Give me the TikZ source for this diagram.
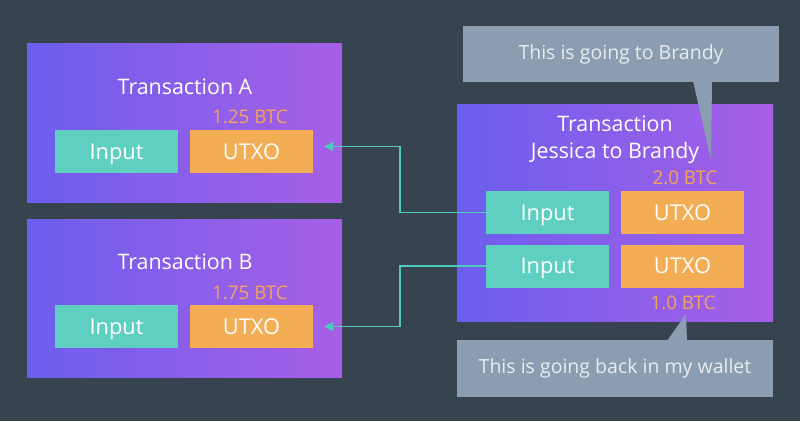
\documentclass[tikz,border=0pt]{standalone}
\usepackage{fontspec}
\setmainfont{Open Sans}
\usepackage{xcolor}
\usepackage{tikz}
\usetikzlibrary{arrows.meta}
\definecolor{bg}{HTML}{37434F}
\definecolor{txleft}{HTML}{6C5EEE}
\definecolor{txright}{HTML}{A75FE6}
\definecolor{teal}{HTML}{5ECFC0}
\definecolor{utxo}{HTML}{F2AD55}
\definecolor{btc}{HTML}{F2A35C}
\definecolor{callout}{HTML}{8B9DB0}
\definecolor{calltext}{HTML}{E8ECF0}
\definecolor{link}{HTML}{4FCABF}
\tikzset{
  txbox/.style={left color=txleft, right color=txright, draw=none, inner sep=0pt},
  inbox/.style={fill=teal, text=white, minimum width=123pt, minimum height=43pt, inner sep=0pt,
    text height=15pt, text depth=0pt, font=\fontsize{21.8}{25}\selectfont},
  utxobox/.style={fill=utxo, text=white, minimum width=123pt, minimum height=43pt, inner sep=0pt,
    text height=15pt, text depth=0pt, font=\fontsize{21.8}{25}\selectfont},
  title/.style={text=white, align=center, font=\fontsize{21.4}{27}\selectfont},
  amount/.style={text=btc, font=\fontsize{18.8}{22}\selectfont},
  callbox/.style={fill=callout, text=calltext, inner sep=0pt, font=\fontsize{19.5}{23}\selectfont},
  link/.style={draw=link, line width=1.8pt, -{Triangle[length=9pt,width=9pt]}},
}
\begin{document}
\begin{tikzpicture}[x=1pt,y=-1pt]
  \fill[bg] (0,0) rectangle (800,421);
  \useasboundingbox (0,0) rectangle (800,421);
  % transaction A
  \node[txbox, minimum width=315pt, minimum height=159pt] (txA) at (184.5,122.5) {};
  \node[title] (titleA) at (185,87) {Transaction A};
  \node[inbox] (inA) at (116.5,151.5) {Input};
  \node[utxobox] (utxoA) at (251.5,151.5) {UTXO};
  \node[amount] (btcA) at (250,117) {1.25 BTC};
  % transaction B
  \node[txbox, minimum width=315pt, minimum height=158pt] (txB) at (184.5,298) {};
  \node[title] (titleB) at (185,262) {Transaction B};
  \node[inbox] (inB) at (116.5,326.5) {Input};
  \node[utxobox] (utxoB) at (251.5,326.5) {UTXO};
  \node[amount] (btcB) at (250,293) {1.75 BTC};
  % Jessica to Brandy
  \node[txbox, minimum width=316pt, minimum height=217pt] (txJ) at (615,212.5) {};
  \node[title] (titleJ) at (615,139.5) {Transaction\\Jessica to Brandy};
  \node[inbox] (inJ1) at (547.5,212.5) {Input};
  \node[utxobox] (utxoJ1) at (682.5,212.5) {UTXO};
  \node[inbox] (inJ2) at (547.5,266) {Input};
  \node[utxobox] (utxoJ2) at (682.5,266) {UTXO};
  \node[amount] (btcJ1) at (685,178) {2.0 BTC};
  \node[amount] (btcJ2) at (683,303) {1.0 BTC};
  % callouts
  \node[callbox, minimum width=316pt, minimum height=56pt] (callTop) at (621,54) {This is going to Brandy};
  \fill[callout] (693,81) -- (712,81) -- (711,159) -- cycle;
  \node[callbox, minimum width=316pt, minimum height=57pt] (callBot) at (615,368.5) {This is going back in my wallet};
  \fill[callout] (667,341) -- (687,341) -- (686,314) -- cycle;
  % spent outputs
  \draw[link] (inJ1.west) -- ++(-86,0) |- ([xshift=11pt,yshift=5pt]utxoA.east);
  \draw[link] (inJ2.west) -- ++(-86,0) |- ([xshift=11pt]utxoB.east);
\end{tikzpicture}
\end{document}
